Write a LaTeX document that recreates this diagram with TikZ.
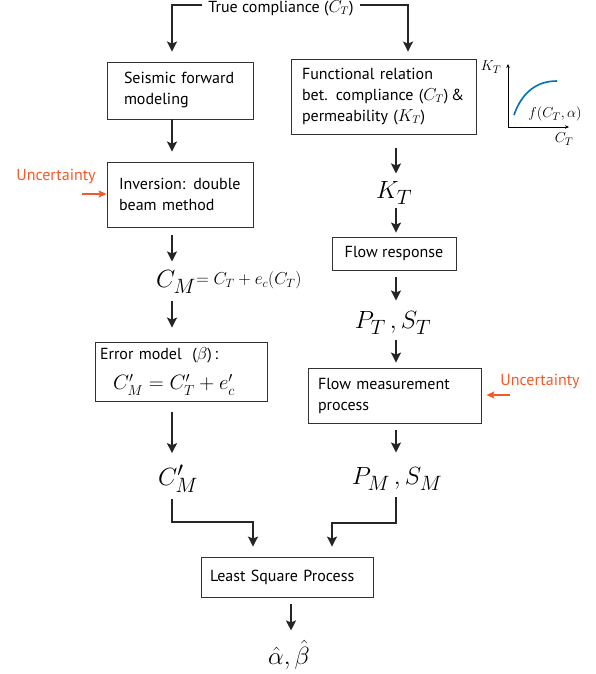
\documentclass[tikz,border=0pt]{standalone}
\usepackage[no-math]{fontspec}
\setmainfont{PT Sans}
\usetikzlibrary{arrows.meta}
\definecolor{uncred}{RGB}{241,90,41}
\definecolor{curveblue}{RGB}{0,114,188}

\begin{document}
\begin{tikzpicture}[x=1pt, y=-1pt,
    box/.style={draw=black!80, line width=0.8pt, align=left, font=\fontsize{16}{21}\selectfont},
    flow/.style={-{Stealth[length=10pt,width=10pt,inset=2pt]}, line width=1.8pt, black!85},
    big/.style={font=\fontsize{28}{30}\selectfont, inner sep=0pt},
    unc/.style={uncred, font=\fontsize{16}{18}\selectfont},
    uflow/.style={-{Stealth[length=8pt,width=7pt,inset=1.5pt]}, line width=1.4pt, uncred},
    lab/.style={font=\fontsize{15}{15}\selectfont, inner sep=0pt}]
    \useasboundingbox (0,0) rectangle (596,674);

    % Columns
    \coordinate (lcol) at (172,0);
    \coordinate (rcol) at (396,0);
    \coordinate (rtop) at (408,0);
    \coordinate (lbend) at (0,522);
    \coordinate (rbend) at (0,523);

    % Source
    \node[font=\fontsize{16}{18}\selectfont, inner xsep=6pt, inner ysep=0pt] (tc) at (281,8) {True compliance ($C_T$)};

    % Seismic side
    \node[box, text width=112pt, inner xsep=17pt, minimum height=57pt] (seis) at (180,90.5) {Seismic forward\\modeling};
    \node[box, text width=122pt, inner xsep=12pt, minimum height=65pt] (inv) at (180,194.5) {Inversion: double\\beam method};
    \node[big] (cm) at (176,282) {$C_M$};
    \node[anchor=base west, font=\fontsize{18}{18}\selectfont, inner sep=0pt] (cmeq) at ([yshift=3pt]cm.base east) {$=C_T+e_c(C_T)$};
    \node[box, text width=162pt, inner xsep=5pt, minimum height=59pt] (err) at (181,371.5) {Error model\ \ ($\beta$)\,:\\[9pt]\hspace*{13pt}{\fontsize{21}{24}\selectfont$C'_M = C'_T + e'_c$}};
    \node[big] (cmp) at (178,479) {$C'_M$};

    % Flow side
    \node[box, text width=163pt, inner xsep=11pt, minimum height=75pt] (func) at (383.5,96.5) {Functional relation\\bet. compliance ($C_T$)\,\&\\permeability ($K_T$)};
    \node[big] (kt) at (394,193) {$K_T$};
    \node[box, align=center, minimum width=124pt, minimum height=33pt] (flowr) at (394,253.5) {Flow response};
    \node[big] (pt) at (393,323) {$P_T\,,S_T$};
    \node[box, text width=153pt, inner xsep=10pt, minimum height=55pt] (meas) at (394.5,395.5) {Flow measurement\\process};
    \node[big] (pm) at (397,479) {$P_M\,,S_M$};

    % Output
    \node[box, text width=154pt, inner xsep=9pt, minimum height=40pt] (lsq) at (287,577) {Least Square Process};
    \node[big] (ab) at (289,655) {$\hat\alpha,\hat\beta$};

    % Uncertainty
    \node[unc] (u1t) at (56,176) {Uncertainty};
    \node[unc] (u2t) at (540,381) {Uncertainty};
    \coordinate (u1) at (82,194);
    \coordinate (u2) at (510,395);
    \draw[uflow] (u1) -- (u1 -| inv.west);
    \draw[uflow, shorten >=5pt] (u2) -- (u2 -| meas.east);

    % Arrows
    \draw[flow, shorten >=10pt] ([yshift=3pt]tc.west) -| (seis.north -| lcol);
    \draw[flow, shorten >=7pt] ([yshift=3pt]tc.east) -| (func.north -| rtop);
    \draw[flow, shorten >=10pt] (seis.south -| lcol) -- (inv.north -| lcol);
    \draw[flow, shorten <=8pt, shorten >=9pt] (inv.south -| lcol) -- (cm.north -| lcol);
    \draw[flow, shorten <=7pt, shorten >=14pt] (cm.south -| lcol) -- (err.north -| lcol);
    \draw[flow, shorten <=11pt, shorten >=12pt] (err.south -| lcol) -- (cmp.north -| lcol);
    \draw[flow, shorten <=6pt, shorten >=10pt] (cmp.south -| lcol) -- (lbend -| lcol) -| ([xshift=-34pt]lsq.north);
    \draw[flow, shorten <=14pt, shorten >=8pt] (func.south -| rcol) -- (kt.north -| rcol);
    \draw[flow, shorten <=3pt, shorten >=4pt] (kt.south -| rcol) -- (flowr.north -| rcol);
    \draw[flow, shorten <=7pt, shorten >=11pt] (flowr.south -| rcol) -- (pt.north -| rcol);
    \draw[flow, shorten <=5pt, shorten >=5pt] (pt.south -| rcol) -- (meas.north -| rcol);
    \draw[flow, shorten <=7pt, shorten >=15pt] (meas.south -| rcol) -- (pm.north -| rcol);
    \draw[flow, shorten <=6pt, shorten >=10pt] (pm.south -| rcol) -- (rbend -| rcol) -| ([xshift=45pt]lsq.north);
    \draw[flow, shorten <=7pt, shorten >=10pt] ([xshift=4pt]lsq.south) -- ([xshift=2pt]ab.north);

    % Small graph
    \draw[-{Stealth[length=4pt,width=3.5pt]}, line width=0.6pt] (508,127) -- (508,64);
    \draw[-{Stealth[length=4pt,width=3.5pt]}, line width=0.6pt] (508,127) -- (569,127);
    \draw[curveblue, line width=1.6pt] (514,115) .. controls (522,92) and (537,81) .. (557,81);
    \node[lab] (ky) at (491,67) {$K_T$};
    \node[lab] (cx) at (564,139) {$C_T$};
    \node[lab] (fx) at (555,114) {$f(C_T,\alpha)$};
\end{tikzpicture}
\end{document}
